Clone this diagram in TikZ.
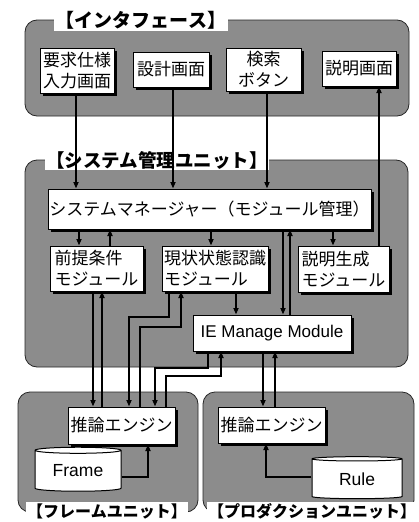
\documentclass[tikz,border=0pt]{standalone}
\usepackage{fontspec}
\setmainfont{Liberation Sans}
\newfontfamily\jp{Noto Sans CJK JP}
\usetikzlibrary{arrows.meta,shadows,shapes.geometric}
\begin{document}
\begin{tikzpicture}[x=1pt,y=-1pt,
  panel/.style={draw=black!85, line width=0.8pt, fill=black!45, rounded corners=12pt},
  box/.style={draw, line width=1pt, fill=white, inner sep=0pt,
    general shadow={fill=black, shadow xshift=2.5pt, shadow yshift=-2.5pt},
    font=\jp\fontsize{17}{21}\selectfont},
  title/.style={fill=white, inner sep=1.5pt, font=\jp\bfseries\fontsize{18.5}{20}\selectfont},
  cyl/.style={cylinder, shape border rotate=90, aspect=0.12, draw, line width=1pt, fill=white,
    inner sep=0pt, font=\fontsize{17.5}{20}\selectfont},
  arr/.style={line width=1.6pt, -{Triangle[length=6.5pt,width=5pt]}},
]
\useasboundingbox (0,0) rectangle (419,522);
\fill[white] (0,0) rectangle (419,522);

% panels
\draw[panel] (25,20) rectangle (409,116);
\draw[panel] (25,160) rectangle (408,367);
\draw[panel] (18,392) rectangle (198,512);
\draw[panel] (203,392) rectangle (414,512);

% titles
\node[title, font=\jp\bfseries\fontsize{19}{20}\selectfont] (t1) at (141,20) {【インタフェース】};
\node[title] (t2) at (157,160) {【システム管理ユニット】};
\node[title, font=\jp\bfseries\fontsize{16}{18}\selectfont] (t3) at (107,511) {【フレームユニット】};
\node[title, font=\jp\bfseries\fontsize{16}{18}\selectfont] (t4) at (312,511) {【プロダクションユニット】};

% interface boxes
\node[box, minimum width=74pt, minimum height=45pt, align=center] (A) at (77,70.5) {要求仕様\\入力画面};
\node[box, minimum width=76pt, minimum height=35pt] (B) at (171,69.5) {設計画面};
\node[box, minimum width=75pt, minimum height=43pt, align=center] (C) at (263.5,69.5) {検索\\ボタン};
\node[box, minimum width=74pt, minimum height=35pt] (D) at (359,68.5) {説明画面};

% system unit
\node[box, minimum width=323pt, minimum height=40pt] (M) at (209.5,209) {システムマネージャー（モジュール管理）};
\node[box, minimum width=93pt, minimum height=45pt, align=left] (P) at (96.5,268.5) {前提条件\\モジュール};
\node[box, minimum width=106pt, minimum height=45pt, align=left] (G) at (215,268.5) {現状状態認識\\モジュール};
\node[box, minimum width=91pt, minimum height=46pt, align=left] (E) at (343.5,269) {説明生成\\モジュール};
\node[box, minimum width=158pt, minimum height=36pt, font=\fontsize{17}{20}\selectfont] (IE) at (272,333) {IE Manage Module};

% engines
\node[box, minimum width=107pt, minimum height=37pt] (F1) at (121.5,425.5) {推論エンジン};
\node[box, minimum width=107pt, minimum height=36pt] (F2) at (271.5,425) {推論エンジン};
\node[cyl, minimum width=86pt, minimum height=44pt] (K1) at (78,471) {Frame};
\node[cyl, minimum width=90pt, minimum height=42pt] (K2) at (357,479) {Rule};

% column / row coordinates
\foreach \x in {76,173,267,379,79,110,211,283,290,333,236,93,102,169,129,181,140,208,155,166,221,263,275,148,266}
  \coordinate (c\x) at (\x,0);
\foreach \y in {317,327,368,376,477}
  \coordinate (h\y) at (0,\y);

% interface <-> manager
\draw[arr] (A.south -| c76) -- (M.north -| c76);
\draw[arr] (B.south -| c173) -- (M.north -| c173);
\draw[arr] (C.south -| c267) -- (M.north -| c267);
\draw[arr] (E.north -| c379) -- (D.south -| c379);

% manager <-> modules
\draw[arr] (M.south -| c79) -- (P.north -| c79);
\draw[arr] (P.north -| c110) -- (M.south -| c110);
\draw[arr] (M.south -| c211) -- (G.north -| c211);
\draw[arr] (M.south -| c333) -- (E.north -| c333);
\draw[arr] (M.south -| c283) -- (IE.north -| c283);
\draw[arr] (IE.north -| c290) -- (M.south -| c290);
\draw[arr] (G.south -| c236) -- (IE.north -| c236);

% modules <-> frame engine
\draw[arr] (P.south -| c93) -- (F1.north -| c93);
\draw[arr] (F1.north -| c102) -- (P.south -| c102);
\draw[arr] (G.south -| c169) -- (c169 |- h317) -- (c129 |- h317) -- (F1.north -| c129);
\draw[arr] (F1.north -| c140) -- (c140 |- h327) -- (c181 |- h327) -- (G.south -| c181);
\draw[arr] (IE.south -| c208) -- (c208 |- h368) -- (c155 |- h368) -- (F1.north -| c155);
\draw[arr] (F1.north -| c166) -- (c166 |- h376) -- (c221 |- h376) -- (IE.south -| c221);

% IE <-> production engine
\draw[arr] (IE.south -| c263) -- (F2.north -| c263);
\draw[arr] (F2.north -| c275) -- (IE.south -| c275);

% databases
\draw[arr] (K1.east |- h477) -- (c148 |- h477) -- (F1.south -| c148);
\draw[arr] (K2.west |- h477) -- (c266 |- h477) -- (F2.south -| c266);
\end{tikzpicture}
\end{document}
